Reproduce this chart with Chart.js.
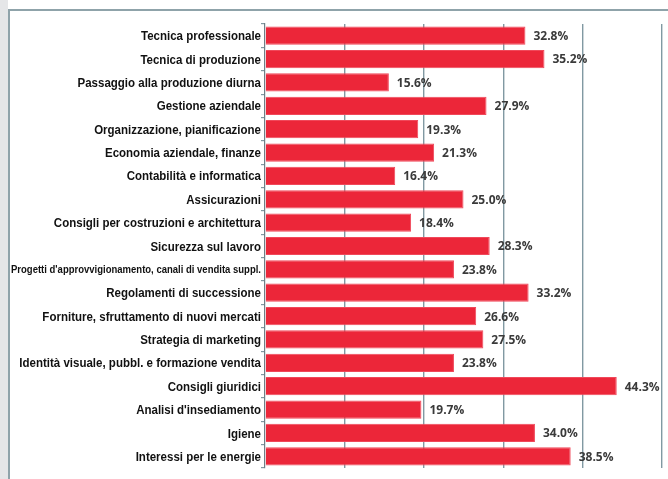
<!DOCTYPE html>
<html>
<head>
<meta charset="utf-8">
<script src="https://cdn.jsdelivr.net/npm/chart.js@4.4.1/dist/chart.umd.min.js"></script>
<style>
    html, body { margin: 0; padding: 0; background: #fff; }
    #wrap { width: 668px; height: 479px; position: relative; }
</style>
</head>
<body>
<div id="wrap"><canvas id="consulenze"></canvas></div>
<script>
const categorie = [
    'Tecnica professionale',
    'Tecnica di produzione',
    'Passaggio alla produzione diurna',
    'Gestione aziendale',
    'Organizzazione, pianificazione',
    'Economia aziendale, finanze',
    'Contabilità e informatica',
    'Assicurazioni',
    'Consigli per costruzioni e architettura',
    'Sicurezza sul lavoro',
    "Progetti d'approvvigionamento, canali di vendita suppl.",
    'Regolamenti di successione',
    'Forniture, sfruttamento di nuovi mercati',
    'Strategia di marketing',
    'Identità visuale, pubbl. e formazione vendita',
    'Consigli giuridici',
    "Analisi d'insediamento",
    'Igiene',
    'Interessi per le energie'
]

const percentuali = [32.8, 35.2, 15.6, 27.9, 19.3, 21.3, 16.4, 25.0, 18.4, 28.3,
    23.8, 33.2, 26.6, 27.5, 23.8, 44.3, 19.7, 34.0, 38.5]

// asse x: 0 - 50 %, una linea ogni 10
const assePct = [0, 10, 20, 30, 40, 50]

const grigioBlu = '#8199a2'
const fontEtichette = '"Liberation Sans", Arial, sans-serif'

// cornice della pagina (bordo grigio a sinistra e riga in alto)
const cornice = {
    id: 'cornice',
    beforeDraw(chart) {
        const c = chart.ctx
        c.save()
        c.fillStyle = '#ffffff'
        c.fillRect(0, 0, chart.width, chart.height)
        c.fillStyle = '#e5e6e8'
        c.fillRect(0, 0, 8, chart.height)
        c.strokeStyle = '#8fa3aa'
        c.lineWidth = 2
        c.beginPath()
        c.moveTo(9, chart.height)
        c.lineTo(9, 10)
        c.lineTo(chart.width, 10)
        c.stroke()
        c.restore()
    }
}

// etichette delle categorie in carattere stretto (condensato a mano)
const etichette = {
    id: 'etichette',
    afterDraw(chart) {
        const c = chart.ctx
        const y = chart.scales.y
        c.save()
        c.fillStyle = '#111'
        c.textAlign = 'right'
        c.textBaseline = 'middle'
        // larghezza di riferimento: "Tecnica professionale" ~120px
        c.font = 'bold 13px ' + fontEtichette
        const sx = 120 / c.measureText(categorie[0]).width
        categorie.forEach((lab, i) => {
            let k = sx
            if (i === 10) {
                c.font = 'bold 11px ' + fontEtichette
                k = 250 / c.measureText(lab).width
            } else {
                c.font = 'bold 13px ' + fontEtichette
            }
            c.save()
            c.translate(y.left + y.width - 4, y.getPixelForTick(i) + 1)
            c.scale(k, 1)
            c.fillText(lab, 0, 0)
            c.restore()
        })
        c.restore()
    }
}

// etichette con i valori a destra delle barre
const valori = {
    id: 'valori',
    afterDatasetsDraw(chart) {
        const c = chart.ctx
        const meta = chart.getDatasetMeta(0)
        c.save()
        c.font = 'bold 12px "Open Sans", "DejaVu Sans", sans-serif'
        c.fillStyle = '#3a3a3a'
        c.textBaseline = 'middle'
        c.textAlign = 'left'
        meta.data.forEach((bar, i) => {
            c.fillText(percentuali[i].toFixed(1) + '%', bar.x + 8, bar.y + 1)
        })
        c.restore()
    }
}

const chart = new Chart(document.getElementById('consulenze'), {
    type: 'bar',
    data: {
        labels: categorie,
        datasets: [{
            data: percentuali,
            backgroundColor: '#ec2639',
            borderColor: '#f0485a',
            borderWidth: 1,
            borderSkipped: 'left',
            categoryPercentage: 1,
            barPercentage: 0.78
        }]
    },
    options: {
        indexAxis: 'y',
        responsive: true,
        maintainAspectRatio: false,
        animation: false,
        layout: {
            padding: { top: 24, right: 6, bottom: 11, left: 0 }
        },
        plugins: {
            legend: { display: false },
            tooltip: { enabled: false }
        },
        scales: {
            x: {
                min: assePct[0],
                max: assePct[assePct.length - 1],
                afterBuildTicks: (scale) => {
                    scale.ticks = assePct.map(v => ({ value: v }))
                },
                ticks: { display: false },
                grid: {
                    color: (ctx) => ctx.index === 0 ? 'rgba(0,0,0,0)' : grigioBlu,
                    lineWidth: 1.4,
                    drawTicks: false
                },
                border: { display: false }
            },
            y: {
                afterFit: (scale) => { scale.width = 265 },
                ticks: { display: false, autoSkip: false },
                grid: {
                    offset: true,
                    drawOnChartArea: false,
                    drawTicks: true,
                    tickLength: 4,
                    color: grigioBlu,
                    lineWidth: 1.2
                },
                border: { display: true, color: '#6f7f86', width: 1.2 }
            }
        }
    },
    plugins: [cornice, valori, etichette]
})
</script>
</body>
</html>
